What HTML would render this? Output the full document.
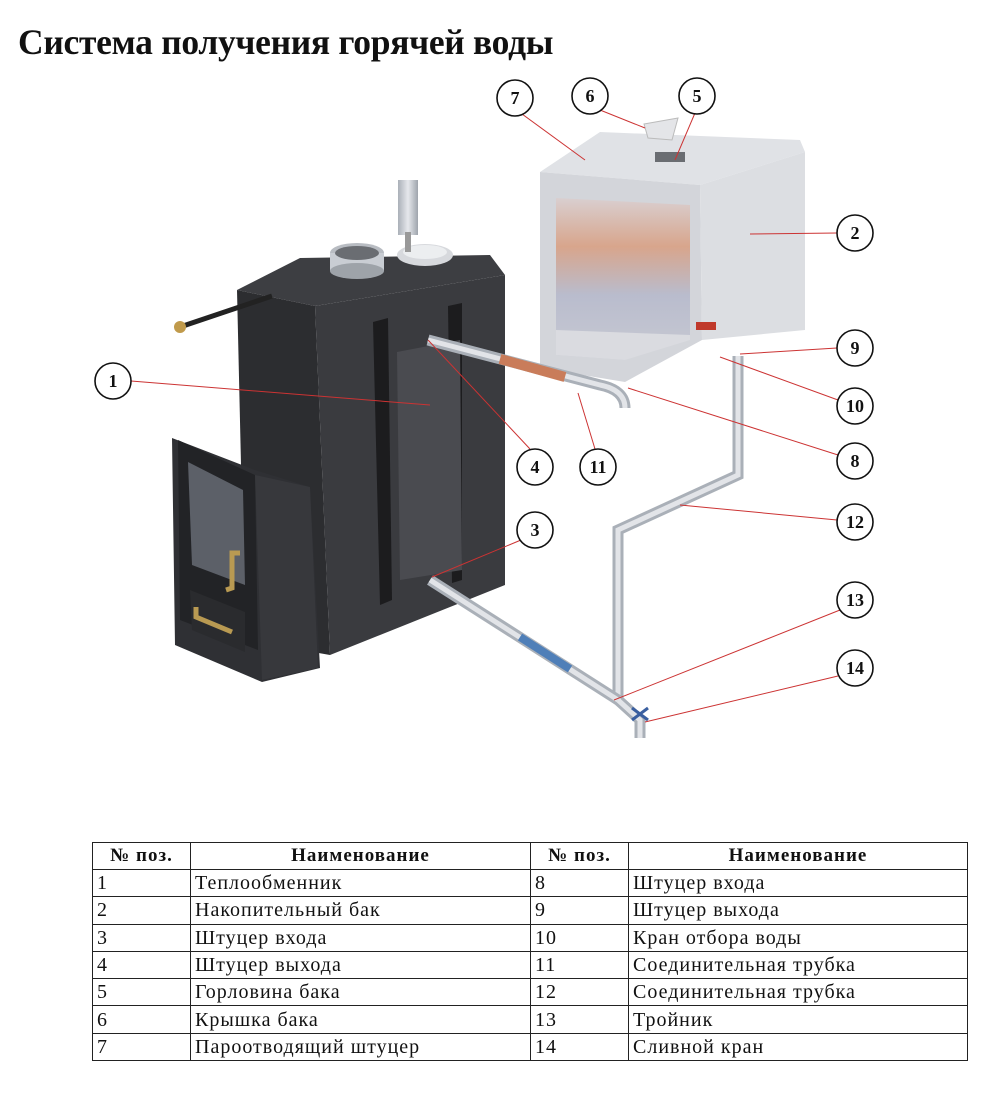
<!DOCTYPE html>
<html><head><meta charset="utf-8">
<style>
body{margin:0;background:#fff;width:1000px;height:1100px;position:relative;overflow:hidden;font-family:"Liberation Serif",serif}
h1{position:absolute;left:18px;top:21px;margin:0;font-size:35.5px;font-weight:bold;color:#111;letter-spacing:-0.3px}
table{position:absolute;left:92px;top:842px;border-collapse:collapse;font-size:20px;letter-spacing:1px;color:#111;table-layout:fixed;width:875px}
td{border:1px solid #222;height:26.3px;padding:0 0 0 4px;line-height:22px;white-space:nowrap;overflow:hidden}
th{border:1px solid #222;height:26px;font-size:19px;letter-spacing:1px;padding:0}
</style></head><body>
<h1>Система получения горячей воды</h1>
<svg width="1000" height="830" style="position:absolute;left:0;top:0">
<defs>
<linearGradient id="inner" x1="0" y1="0" x2="0" y2="1"><stop offset="0" stop-color="#d9cfd0"/><stop offset="0.3" stop-color="#d8a58c"/><stop offset="0.6" stop-color="#b9bccd"/><stop offset="1" stop-color="#c8cad3"/></linearGradient>
<linearGradient id="pipe" x1="0" y1="0" x2="1" y2="0"><stop offset="0" stop-color="#aab0b8"/><stop offset="0.5" stop-color="#e6e8ec"/><stop offset="1" stop-color="#9ea4ac"/></linearGradient>
</defs>
<polygon points="237,290 300,258 490,255 505,275 315,306" fill="#3d3e42"/>
<polygon points="237,290 315,306 330,655 245,640" fill="#2c2d30"/>
<polygon points="315,306 505,275 505,585 330,655" fill="#3a3b3f"/>
<polygon points="373,322 388,318 392,600 380,605" fill="#1c1c1e"/>
<polygon points="448,306 462,303 462,580 452,583" fill="#1c1c1e"/>
<polygon points="397,352 460,340 462,570 400,580" fill="#4a4b50"/>
<polygon points="172,438 255,470 310,487 320,668 262,682 175,645" fill="#2f3034"/>
<polygon points="178,440 255,475 258,650 180,620" fill="#222326"/>
<polygon points="188,462 243,490 245,585 192,565" fill="#5c6068"/>
<polygon points="255,475 310,487 318,668 262,680" fill="#37383c"/>
<polygon points="190,590 245,612 245,652 192,630" fill="#2a2b2e"/>
<path d="M240,553 L232,553 L232,588 L226,590" stroke="#b99a52" stroke-width="5" fill="none"/>
<path d="M196,607 L196,617 L232,632" stroke="#b99a52" stroke-width="5" fill="none"/>
<ellipse cx="357" cy="253" rx="27" ry="10" fill="#b8bcc2"/><rect x="330" y="253" width="54" height="18" fill="#c9cdd3"/><ellipse cx="357" cy="271" rx="27" ry="8" fill="#9ea3a9"/><ellipse cx="357" cy="253" rx="22" ry="7" fill="#6a6d72"/>
<ellipse cx="425" cy="255" rx="28" ry="11" fill="#d7d9dd"/><ellipse cx="425" cy="252" rx="22" ry="7" fill="#eceef0"/>
<rect x="398" y="180" width="20" height="55" fill="url(#pipe)"/><rect x="405" y="232" width="6" height="20" fill="#999"/>
<line x1="180" y1="327" x2="272" y2="296" stroke="#222" stroke-width="5"/><circle cx="180" cy="327" r="6" fill="#c09a4b"/>
<polygon points="540,172 600,132 800,140 805,152 700,185" fill="#e0e2e6"/>
<polygon points="540,172 700,185 702,340 625,382 540,368" fill="#d3d5da"/>
<polygon points="700,185 805,152 805,330 702,340" fill="#dcdee2"/>
<polygon points="556,198 690,205 690,335 625,360 556,355" fill="url(#inner)"/>
<polygon points="556,330 690,335 690,340 625,360 556,355" fill="#dadbe0"/>
<polygon points="644,124 678,118 672,140 648,138" fill="#e4e5e8" stroke="#bbb"/>
<rect x="655" y="152" width="30" height="10" fill="#6a6d72"/>
<rect x="696" y="322" width="20" height="8" fill="#c0392b"/>
<path d="M428,340 L600,385 Q625,390 625,408" stroke="#aab0b8" stroke-width="11" fill="none"/>
<path d="M428,340 L600,385 Q625,390 625,408" stroke="#e2e4e8" stroke-width="5" fill="none"/>
<line x1="500" y1="359" x2="565" y2="377" stroke="#c97c5a" stroke-width="10"/>
<path d="M738,356 L738,475 L618,530 L618,700 L640,720 L640,738" stroke="#aab0b8" stroke-width="11" fill="none"/>
<path d="M738,356 L738,475 L618,530 L618,700 L640,720 L640,738" stroke="#e2e4e8" stroke-width="5" fill="none"/>
<path d="M430,580 L618,700" stroke="#aab0b8" stroke-width="11" fill="none"/>
<path d="M430,580 L618,700" stroke="#e2e4e8" stroke-width="5" fill="none"/>
<line x1="520" y1="637" x2="570" y2="669" stroke="#4f7fb8" stroke-width="8"/>
<path d="M632,708 L648,720 M648,708 L632,720" stroke="#3a5fa0" stroke-width="3"/>
<g stroke="#c33" stroke-width="1" fill="none">
<line x1="131" y1="381" x2="430" y2="405"/><line x1="837" y1="233" x2="750" y2="234"/>
<line x1="521" y1="540" x2="432" y2="577"/><line x1="530" y1="449" x2="428" y2="340"/>
<line x1="695" y1="113" x2="675" y2="160"/><line x1="600" y1="110" x2="645" y2="128"/>
<line x1="522" y1="114" x2="585" y2="160"/><line x1="838" y1="455" x2="628" y2="388"/>
<line x1="837" y1="348" x2="740" y2="354"/><line x1="838" y1="400" x2="720" y2="357"/>
<line x1="595" y1="449" x2="578" y2="393"/><line x1="837" y1="520" x2="680" y2="505"/>
<line x1="840" y1="610" x2="614" y2="700"/><line x1="838" y1="676" x2="645" y2="722"/>
</g>
<g font-family="Liberation Serif" font-weight="bold" font-size="18" text-anchor="middle" fill="#111">
<g fill="#fff" stroke="#111" stroke-width="1.6">
<circle cx="113" cy="381" r="18"/><circle cx="855" cy="233" r="18"/><circle cx="535" cy="530" r="18"/>
<circle cx="535" cy="467" r="18"/><circle cx="697" cy="96" r="18"/><circle cx="590" cy="96" r="18"/>
<circle cx="515" cy="98" r="18"/><circle cx="855" cy="461" r="18"/><circle cx="855" cy="348" r="18"/>
<circle cx="855" cy="406" r="18"/><circle cx="598" cy="467" r="18"/><circle cx="855" cy="522" r="18"/>
<circle cx="855" cy="600" r="18"/><circle cx="855" cy="668" r="18"/></g>
<text x="113" y="387">1</text><text x="855" y="239">2</text><text x="535" y="536">3</text>
<text x="535" y="473">4</text><text x="697" y="102">5</text><text x="590" y="102">6</text>
<text x="515" y="104">7</text><text x="855" y="467">8</text><text x="855" y="354">9</text>
<text x="855" y="412">10</text><text x="598" y="473">11</text><text x="855" y="528">12</text>
<text x="855" y="606">13</text><text x="855" y="674">14</text>
</g>
</svg>
<table>
<colgroup><col style="width:98px"><col style="width:340px"><col style="width:98px"><col style="width:339px"></colgroup>
<tr><th>№ поз.</th><th>Наименование</th><th>№ поз.</th><th>Наименование</th></tr>
<tr><td>1</td><td>Теплообменник</td><td>8</td><td>Штуцер входа</td></tr>
<tr><td>2</td><td>Накопительный бак</td><td>9</td><td>Штуцер выхода</td></tr>
<tr><td>3</td><td>Штуцер входа</td><td>10</td><td>Кран отбора воды</td></tr>
<tr><td>4</td><td>Штуцер выхода</td><td>11</td><td>Соединительная трубка</td></tr>
<tr><td>5</td><td>Горловина бака</td><td>12</td><td>Соединительная трубка</td></tr>
<tr><td>6</td><td>Крышка бака</td><td>13</td><td>Тройник</td></tr>
<tr><td>7</td><td>Пароотводящий штуцер</td><td>14</td><td>Сливной кран</td></tr>
</table>
</body></html>
